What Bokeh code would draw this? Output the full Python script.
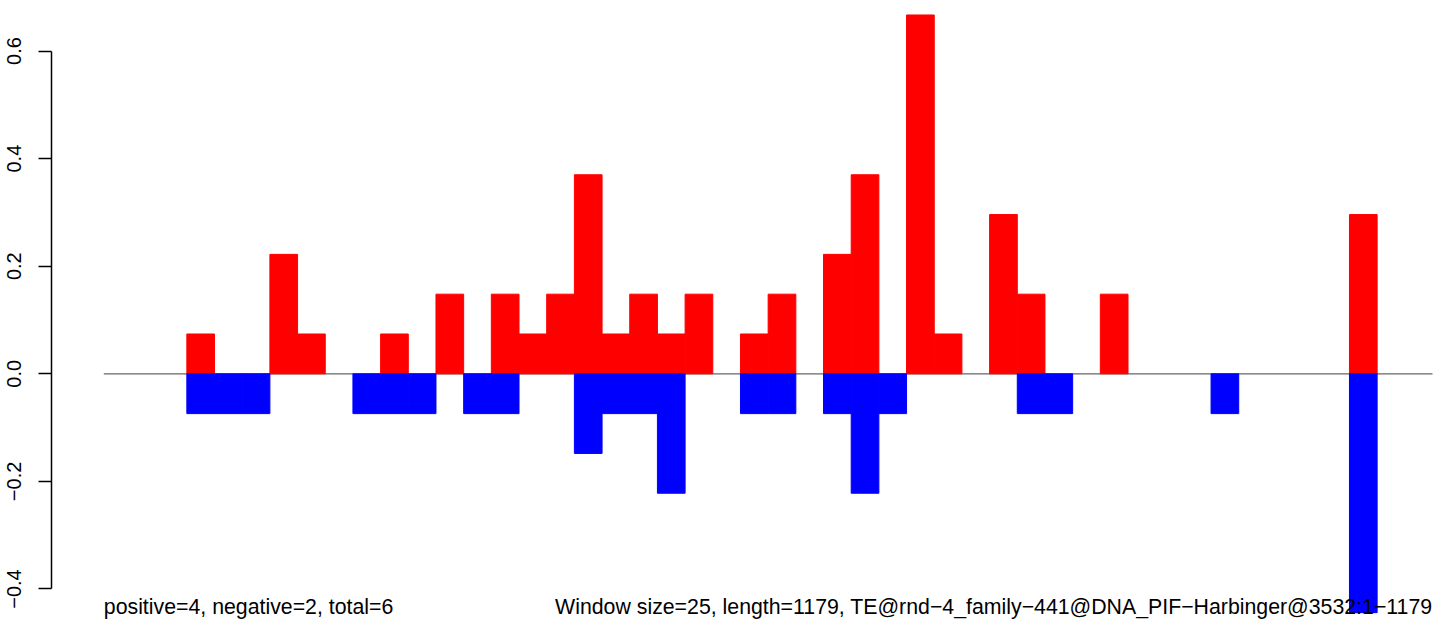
from bokeh.plotting import figure
from bokeh.models import Range1d, FixedTicker, Label
from bokeh.embed import file_html
from bokeh.resources import INLINE

# ---- data (one value per 25-bp window, 48 windows) ----
positive = [0, 0, 0, 0.074, 0, 0, 0.222, 0.074, 0, 0, 0.074, 0,
            0.148, 0, 0.148, 0.074, 0.148, 0.370, 0.074, 0.148, 0.074, 0.148, 0, 0.074,
            0.148, 0, 0.222, 0.370, 0, 0.667, 0.074, 0, 0.296, 0.148, 0, 0,
            0.148, 0, 0, 0, 0, 0, 0, 0, 0, 0.296, 0, 0]
negative = [0, 0, 0, -0.074, -0.074, -0.074, 0, 0, 0, -0.074, -0.074, -0.074,
            0, -0.074, -0.074, 0, 0, -0.148, -0.074, -0.074, -0.222, 0, 0, -0.074,
            -0.074, 0, -0.074, -0.222, -0.074, 0, 0, 0, 0, -0.074, -0.074, 0,
            0, 0, 0, 0, -0.074, 0, 0, 0, 0, -0.444, 0, 0]
y_ticks = [-0.4, -0.2, 0.0, 0.2, 0.4, 0.6]
y_tick_labels = ["\u22120.4", "\u22120.2", "0.0", "0.2", "0.4", "0.6"]
left_note = "positive=4, negative=2, total=6"
right_note = "Window size=25, length=1179, TE@rnd\u22124_family\u2212441@DNA_PIF\u2212Harbinger@3532:1\u22121179"

n = len(positive)

# only windows with a non-zero value get a bar
pos_idx = [i for i, v in enumerate(positive) if v != 0]
neg_idx = [i for i, v in enumerate(negative) if v != 0]

FONT = "Liberation Sans"

p = figure(width=1444, height=624, output_backend="svg", toolbar_location=None,
           x_range=Range1d(-1.8895, n + 0.4335), y_range=Range1d(-0.4660, 0.6939),
           min_border_left=51, min_border_right=0, min_border_top=0, min_border_bottom=0)
p.xaxis.visible = False
p.xgrid.visible = False
p.ygrid.visible = False
p.outline_line_color = None
p.background_fill_color = "white"
p.border_fill_color = "white"

# y axis, R style
ax = p.yaxis[0]
ax.ticker = FixedTicker(ticks=y_ticks)
ax.major_label_overrides = {t: l for t, l in zip(y_ticks, y_tick_labels)}
ax.bounds = (-0.4, 0.6)
ax.minor_tick_line_color = None
ax.major_tick_out = 13
ax.major_tick_in = 0
ax.axis_line_width = 1.5
ax.major_tick_line_width = 1.5
ax.axis_line_color = "black"
ax.major_tick_line_color = "black"
ax.major_label_orientation = "parallel"
ax.major_label_standoff = 17
ax.major_label_text_font = FONT
ax.major_label_text_font_size = "20px"
ax.major_label_text_color = "black"

# zero line (under the bars)
p.segment(x0=[0], y0=[0], x1=[n], y1=[0], line_color="#666666", line_width=1.2)

# bars
p.quad(left=pos_idx, right=[i + 1 for i in pos_idx], bottom=[0] * len(pos_idx),
       top=[positive[i] for i in pos_idx],
       fill_color="#FF0000", line_color="#FF0000", line_width=1.0)
p.quad(left=neg_idx, right=[i + 1 for i in neg_idx],
       bottom=[negative[i] for i in neg_idx], top=[0] * len(neg_idx),
       fill_color="#0000FF", line_color="#0000FF", line_width=1.0)

# notes
note_y = -0.4334
p.add_layout(Label(x=0, y=note_y, text=left_note, text_align="left",
                   text_baseline="alphabetic", text_font=FONT,
                   text_font_size="21.3px", text_color="black"))
p.add_layout(Label(x=n, y=note_y, text=right_note, text_align="right",
                   text_baseline="alphabetic", text_font=FONT,
                   text_font_size="21.3px", text_color="black"))

open("out.html", "w").write(file_html(p, INLINE))
